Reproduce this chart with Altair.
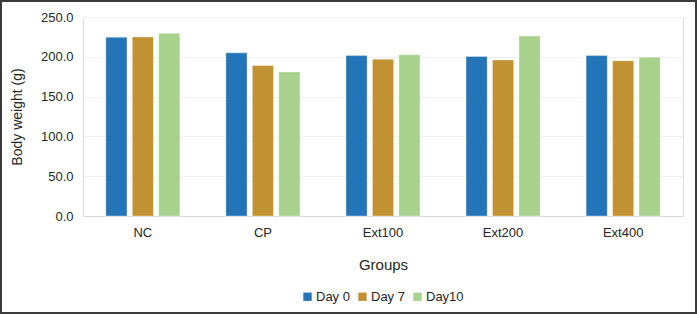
import altair as alt
import pandas as pd

groups = ["NC", "CP", "Ext100", "Ext200", "Ext400"]
days = ["Day 0", "Day 7", "Day10"]
day0 = [224.5, 205.0, 201.5, 200.5, 201.5]
day7 = [225.0, 189.0, 197.0, 196.0, 195.0]
day10 = [229.5, 181.0, 202.5, 226.0, 199.5]
colors = ["#2474b8", "#c09232", "#a9d18e"]

rows = []
for i, g in enumerate(groups):
    for d, vals in zip(days, [day0, day7, day10]):
        rows.append({"Group": g, "Day": d, "Weight": vals[i]})
df = pd.DataFrame(rows)

W, H = 600, 199

bars = alt.Chart(df).mark_bar(stroke="#ffffff", strokeOpacity=0.35, strokeWidth=1).encode(
    x=alt.X("Group:N", sort=groups,
            scale=alt.Scale(paddingInner=0.383, paddingOuter=0.19),
            axis=alt.Axis(title="Groups", labelAngle=0, ticks=False, grid=False,
                          domainColor="#d9d9d9", labelPadding=10, titlePadding=18,
                          labelFontSize=13, titleFontSize=15, titleFontWeight="normal",
                          labelColor="#262626", titleColor="#262626")),
    xOffset=alt.XOffset("Day:N", sort=days, scale=alt.Scale(paddingInner=0.2)),
    y=alt.Y("Weight:Q", scale=alt.Scale(domain=[0, 250]),
            axis=alt.Axis(title="Body weight (g)", values=[0, 50, 100, 150, 200, 250],
                          format=".1f", ticks=False, domain=False,
                          gridColor="#f0f0f0", labelPadding=10, titlePadding=16,
                          labelFontSize=13, titleFontSize=14, titleFontWeight="normal",
                          labelColor="#262626", titleColor="#262626")),
    color=alt.Color("Day:N", sort=days, scale=alt.Scale(domain=days, range=colors),
                    legend=alt.Legend(title=None, orient="none", direction="horizontal",
                                      legendX=218, legendY=273, symbolType="square",
                                      symbolSize=70, symbolStrokeWidth=0, labelFontSize=13,
                                      labelColor="#262626", columnPadding=6, labelOffset=2)),
)

frame = alt.Chart(pd.DataFrame({"k": [0]})).mark_rect(
    fill=None, stroke="#3a3a3a", strokeWidth=2
).encode(
    x=alt.value(-82), x2=alt.value(W + 13),
    y=alt.value(-16), y2=alt.value(H + 97),
)

chart = alt.layer(bars, frame).properties(
    width=W, height=H,
    autosize=alt.AutoSizeParams(type="none"),
    padding={"left": 83, "top": 17, "right": 14, "bottom": 99},
).configure_view(strokeWidth=0, stroke="transparent").configure(font="Liberation Sans")

chart.save("out.html", embed_options={"renderer": "svg", "actions": False})
